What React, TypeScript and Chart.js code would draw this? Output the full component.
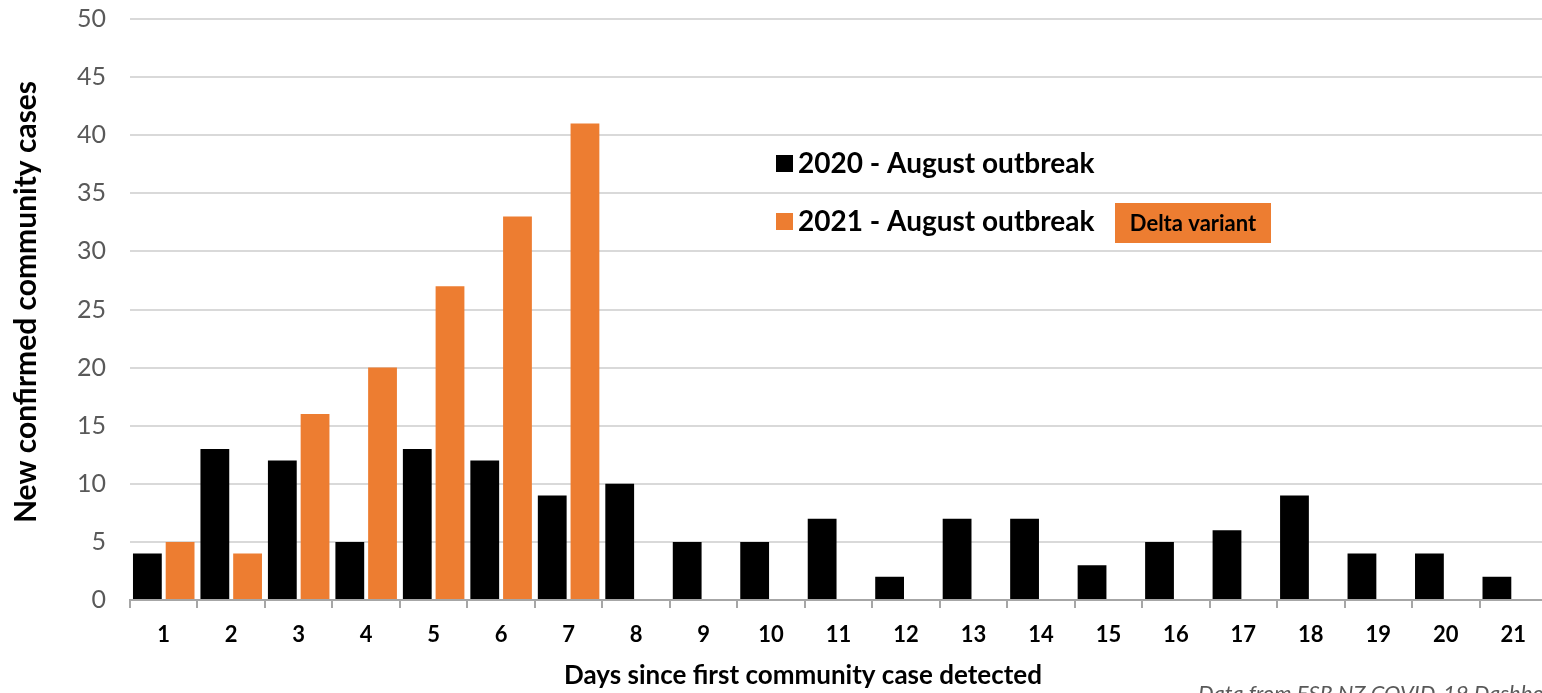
import React, { useEffect, useRef } from "react";
import { Chart, registerables } from "chart.js";

Chart.register(...registerables);

const days = ["1","2","3","4","5","6","7","8","9","10","11","12","13","14","15","16","17","18","19","20","21"];
const cases2020 = [4, 13, 12, 5, 13, 12, 9, 10, 5, 5, 7, 2, 7, 7, 3, 5, 6, 9, 4, 4, 2];
const cases2021 = [5, 4, 16, 20, 27, 33, 41, null, null, null, null, null, null, null, null, null, null, null, null, null, null];
const label2020 = "2020 - August outbreak";
const label2021 = "2021 - August outbreak";
const deltaNote = "Delta variant";
const yTitle = "New confirmed community cases";
const xTitle = "Days since first community case detected";
const sourceNote = "Data from ESR NZ COVID-19 Dashboard";

const BLACK = "#000000";
const ORANGE = "#ED7D31";
const FONT = "Lato, 'Open Sans', sans-serif";

const overlayPlugin = {
  id: "overlay",
  afterDraw(chart: any) {
    const ctx = chart.ctx;
    ctx.save();
    // Y title
    ctx.save();
    ctx.translate(26, 302);
    ctx.rotate(-Math.PI / 2);
    ctx.fillStyle = "#000";
    ctx.font = `bold 30px ${FONT}`;
    ctx.textAlign = "center";
    ctx.textBaseline = "middle";
    ctx.fillText(yTitle, 0, 0);
    ctx.restore();
    // X title
    ctx.fillStyle = "#000";
    ctx.font = `bold 26px ${FONT}`;
    ctx.textAlign = "center";
    ctx.textBaseline = "middle";
    ctx.fillText(xTitle, 803, 676);
    // Source note
    ctx.fillStyle = "#595959";
    ctx.font = `italic 22px ${FONT}`;
    ctx.textAlign = "left";
    ctx.textBaseline = "top";
    ctx.fillText(sourceNote, 1198, 683);
    // Legend
    const ds = chart.data.datasets;
    const rows = [163, 221];
    ds.forEach((d: any, i: number) => {
      ctx.fillStyle = d.backgroundColor;
      ctx.fillRect(776, rows[i] - 8, 17, 17);
      ctx.fillStyle = "#000";
      ctx.font = `bold 28px ${FONT}`;
      ctx.textAlign = "left";
      ctx.textBaseline = "middle";
      ctx.fillText(d.label, 798, rows[i] + 1);
    });
    // Delta box
    ctx.fillStyle = ORANGE;
    ctx.fillRect(1115, 203, 156, 40);
    ctx.fillStyle = "#000";
    ctx.font = `bold 22px ${FONT}`;
    ctx.textAlign = "center";
    ctx.textBaseline = "middle";
    ctx.fillText(deltaNote, 1193, 224);
    ctx.restore();
  },
};

export default function App() {
  const ref = useRef<HTMLCanvasElement | null>(null);
  useEffect(() => {
    document.body.style.margin = "0";
    document.body.style.overflow = "hidden";
    const chart = new Chart(ref.current as HTMLCanvasElement, {
      type: "bar",
      data: {
        labels: days,
        datasets: [
          { label: label2020, data: cases2020, backgroundColor: BLACK, categoryPercentage: 0.97, barPercentage: 0.88 },
          { label: label2021, data: cases2021 as any, backgroundColor: ORANGE, categoryPercentage: 0.97, barPercentage: 0.88 },
        ],
      },
      options: {
        animation: false,
        responsive: false,
        layout: { padding: { top: 0, right: 13, left: 0, bottom: 0 } },
        plugins: { legend: { display: false }, tooltip: { enabled: false } },
        scales: {
          x: {
            grid: { display: true, drawOnChartArea: false, offset: true, color: "#a6a6a6", tickLength: 8, lineWidth: 2 },
            border: { display: true, color: "#a6a6a6", width: 2 },
            ticks: { color: "#000", font: { family: FONT, size: 22, weight: "bold" }, padding: 14, maxRotation: 0 },
            afterFit: (s: any) => { s.height = 93; },
          },
          y: {
            min: 0,
            max: 50,
            ticks: { stepSize: 5, color: "#595959", font: { family: FONT, size: 25 }, padding: 4 },
            grid: { color: "#d9d9d9", lineWidth: 2, drawTicks: true, tickLength: 20, tickColor: "rgba(0,0,0,0)" },
            border: { display: false },
            afterFit: (s: any) => { s.width = 130; },
          },
        },
      },
      plugins: [overlayPlugin],
    });
    return () => chart.destroy();
  }, []);
  return (
    <div style={{ width: 1542, height: 693, overflow: "hidden", position: "relative" }}>
      <canvas ref={ref} width={1560} height={693} style={{ display: "block" }} />
    </div>
  );
}
